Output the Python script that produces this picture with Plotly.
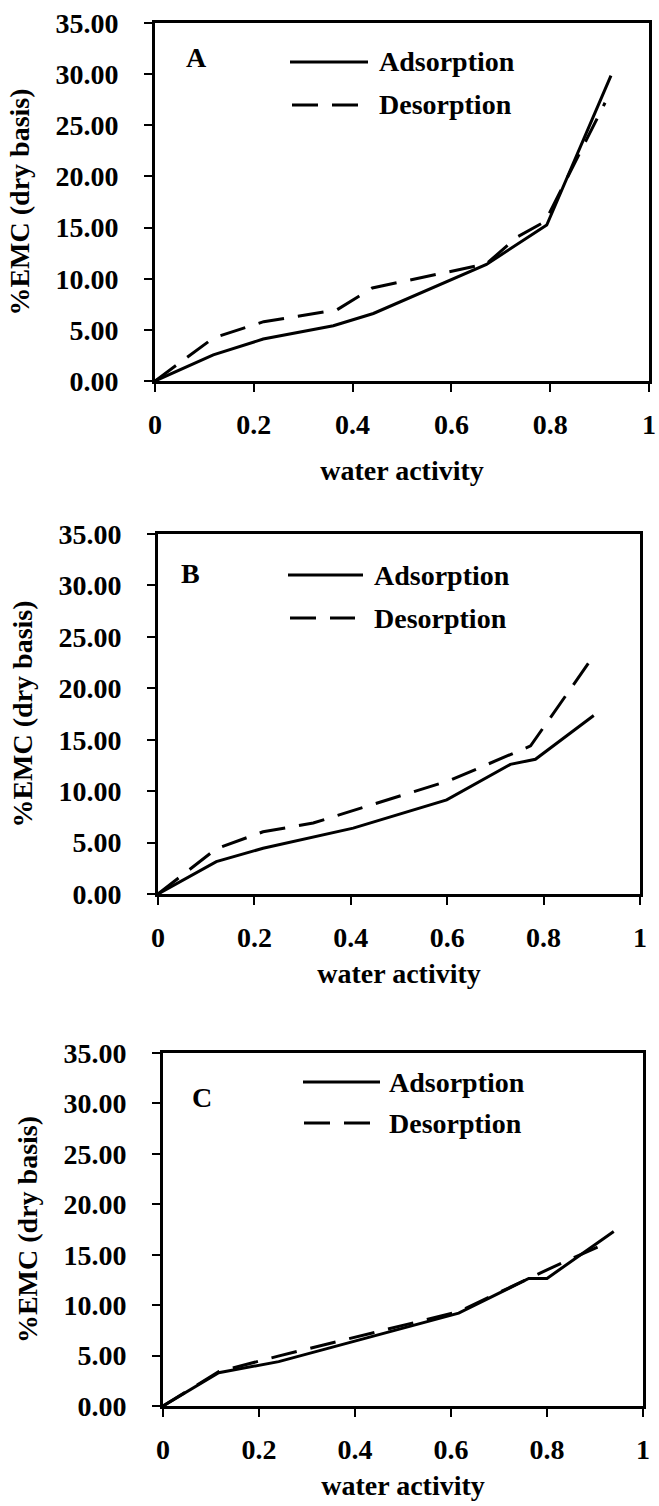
import plotly.graph_objects as go

W, H = 659, 1506
FONT = "Liberation Serif, Times New Roman, serif"

# Panel A
a_ads_x = [0, 0.118, 0.219, 0.361, 0.442, 0.671, 0.793, 0.923]
a_ads_y = [0, 2.55, 4.10, 5.40, 6.60, 11.40, 15.25, 29.85]
a_des_x = [0, 0.118, 0.220, 0.368, 0.440, 0.671, 0.732, 0.790, 0.911]
a_des_y = [0, 4.20, 5.80, 6.95, 9.10, 11.45, 14.05, 15.60, 27.20]

# Panel B
b_ads_x = [0, 0.121, 0.218, 0.405, 0.599, 0.731, 0.783, 0.904]
b_ads_y = [0, 3.15, 4.45, 6.40, 9.15, 12.60, 13.10, 17.35]
b_des_x = [0, 0.121, 0.218, 0.322, 0.606, 0.773, 0.897]
b_des_y = [0, 4.40, 6.05, 6.90, 11.05, 14.40, 22.70]

# Panel C
c_ads_x = [0, 0.116, 0.241, 0.616, 0.762, 0.800, 0.939]
c_ads_y = [0, 3.30, 4.40, 9.20, 12.65, 12.65, 17.30]
c_des_x = [0, 0.116, 0.240, 0.616, 0.762, 0.800, 0.921]
c_des_y = [0, 3.40, 4.95, 9.35, 12.65, 13.50, 16.10]

panel_labels = ["A", "B", "C"]
series_names = ["Adsorption", "Desorption"]
y_ticks = [0, 5, 10, 15, 20, 25, 30, 35]
y_tick_text = ["0.00", "5.00", "10.00", "15.00", "20.00", "25.00", "30.00", "35.00"]
x_ticks = [0, 0.2, 0.4, 0.6, 0.8, 1]
x_tick_text = ["0", "0.2", "0.4", "0.6", "0.8", "1"]

panels = [
    (a_ads_x, a_ads_y, a_des_x, a_des_y),
    (b_ads_x, b_ads_y, b_des_x, b_des_y),
    (c_ads_x, c_ads_y, c_des_x, c_des_y),
]

# plot frames in pixels: left, right, top, bottom
frames = [(155, 649, 23, 381), (158, 640, 534, 894), (163, 643, 1053, 1406)]
x_title_standoff = [22, 12, 12]
# legend / label placement in pixels
letter_pos = [(196, 58), (190, 573), (202, 1097)]
legend_rows = [
    ((290, 368, 62), (292, 358, 105), 377),
    ((288, 363, 575), (290, 355, 618), 372),
    ((303, 380, 1082), (304, 370, 1123), 387),
]

DASH = "26px,14px"
TXT = dict(family=FONT, size=28, color="black", weight="bold")


def px(x):
    return x / W


def py(y):
    return 1 - y / H


fig = go.Figure()
shapes, annotations = [], []

for i, (ax_, ay_, dx_, dy_) in enumerate(panels):
    n = "" if i == 0 else str(i + 1)
    fig.add_trace(go.Scatter(x=ax_, y=ay_, mode="lines", name=series_names[0],
                             line=dict(color="black", width=3),
                             xaxis="x" + n, yaxis="y" + n, showlegend=False))
    fig.add_trace(go.Scatter(x=dx_, y=dy_, mode="lines", name=series_names[1],
                             line=dict(color="black", width=3, dash=DASH),
                             xaxis="x" + n, yaxis="y" + n, showlegend=False))
    l, r, t, b = frames[i]
    common = dict(showline=True, linecolor="black", linewidth=3, mirror=True,
                  showgrid=False, zeroline=False, ticks="outside", ticklen=8,
                  tickwidth=1.5, tickcolor="black", automargin=False,
                  tickfont=TXT)
    fig.update_layout(**{
        "xaxis" + n: dict(domain=[px(l), px(r)], range=[0, 1], anchor="y" + n,
                          tickvals=x_ticks, ticktext=x_tick_text,
                          ticklabelstandoff=8,
                          title=dict(text="water activity", font=TXT,
                                     standoff=x_title_standoff[i]),
                          **common),
        "yaxis" + n: dict(domain=[py(b), py(t)], range=[0, 35], anchor="x" + n,
                          tickvals=y_ticks, ticktext=y_tick_text,
                          ticklabelstandoff=20,
                          title=dict(text="%EMC (dry basis)", font=TXT,
                                     standoff=18),
                          **common),
    })

    # panel letter
    lx, ly = letter_pos[i]
    annotations.append(dict(x=px(lx), y=py(ly), xref="paper", yref="paper",
                            text=panel_labels[i], showarrow=False, font=TXT,
                            xanchor="center", yanchor="middle"))
    # legend keys
    (s0, s1, sy), (d0, d1, dy), tx = legend_rows[i]
    shapes.append(dict(type="line", xref="paper", yref="paper",
                       x0=px(s0), x1=px(s1), y0=py(sy), y1=py(sy),
                       line=dict(color="black", width=3)))
    shapes.append(dict(type="line", xref="paper", yref="paper",
                       x0=px(d0), x1=px(d1), y0=py(dy), y1=py(dy),
                       line=dict(color="black", width=3, dash=DASH)))
    for name, yy in ((series_names[0], sy), (series_names[1], dy)):
        annotations.append(dict(x=px(tx), y=py(yy), xref="paper", yref="paper",
                                text=name, showarrow=False, font=TXT,
                                xanchor="left", yanchor="middle"))

fig.update_layout(template="none", width=W, height=H,
                  margin=dict(l=0, r=0, t=0, b=0, autoexpand=False),
                  paper_bgcolor="white", plot_bgcolor="white",
                  shapes=shapes, annotations=annotations, showlegend=False)

fig.write_html("out.html")
